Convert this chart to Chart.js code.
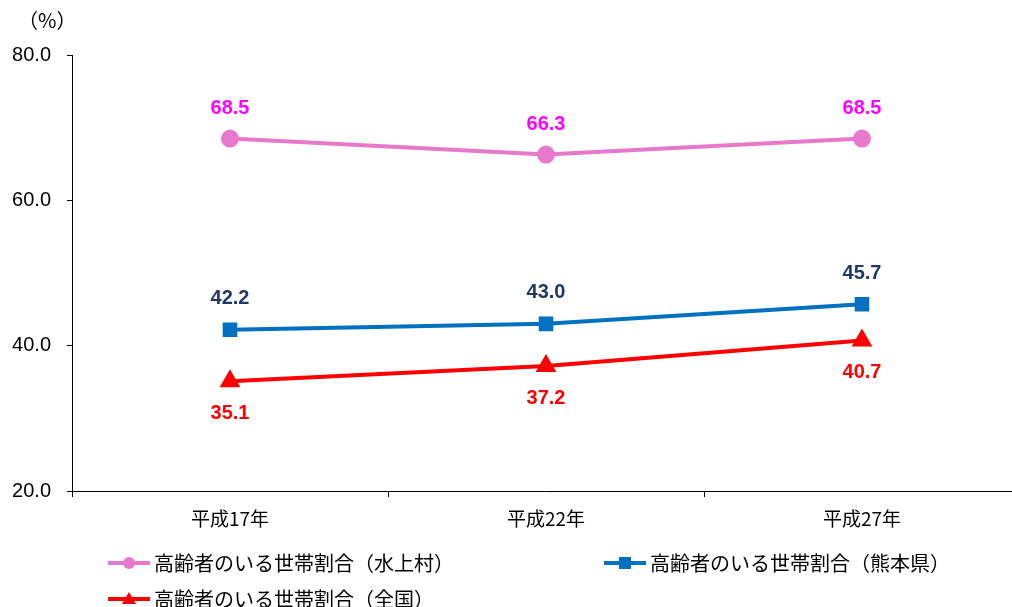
<!DOCTYPE html>
<html><head><meta charset="utf-8">
<script src="https://cdn.jsdelivr.net/npm/chart.js@4.4.0/dist/chart.umd.min.js"></script>
<style>
html,body{margin:0;padding:0;background:#fff;overflow:hidden;width:1012px;height:607px;}
#c{display:block;}
</style></head>
<body>
<canvas id="c" width="1032" height="607"></canvas>
<script>
const categories = ['平成17年', '平成22年', '平成27年'];
const mizukami = [68.5, 66.3, 68.5];
const kumamoto = [42.2, 43.0, 45.7];
const zenkoku = [35.1, 37.2, 40.7];
const seriesNames = ['高齢者のいる世帯割合（水上村）', '高齢者のいる世帯割合（熊本県）', '高齢者のいる世帯割合（全国）'];
const yTicks = [20, 40, 60, 80];

const JP = '"Noto Sans CJK JP", "Noto Sans", sans-serif';
const NUM = '"Liberation Sans", "Open Sans", sans-serif';

const labelPlugin = {
  id: 'labels',
  afterDatasetsDraw(chart) {
    const ctx = chart.ctx;
    ctx.save();
    chart.data.datasets.forEach((ds, i) => {
      const meta = chart.getDatasetMeta(i);
      meta.data.forEach((pt, j) => {
        ctx.font = 'bold 20px ' + NUM;
        ctx.fillStyle = ds.labelColor;
        ctx.textAlign = 'center';
        ctx.textBaseline = 'middle';
        ctx.fillText(ds.data[j].toFixed(1), pt.x, pt.y + ds.labelOffset);
      });
    });
    ctx.restore();
  },
  afterDraw(chart) {
    const ctx = chart.ctx;
    ctx.save();
    ctx.fillStyle = '#000';
    ctx.font = '20px ' + JP;
    ctx.textAlign = 'left';
    ctx.textBaseline = 'middle';
    ctx.fillText('（%）', 18, 20);
    // legend
    const pos = [[108, 563], [604, 563], [108, 599]];
    chart.data.datasets.forEach((ds, i) => {
      const [x, y] = pos[i];
      ctx.strokeStyle = ds.borderColor;
      ctx.lineWidth = 4;
      ctx.beginPath(); ctx.moveTo(x, y); ctx.lineTo(x + 42, y); ctx.stroke();
      ctx.fillStyle = ds.borderColor;
      const cx = x + 21;
      if (ds.pointStyle === 'circle') {
        ctx.beginPath(); ctx.arc(cx, y, 6, 0, Math.PI * 2); ctx.fill();
      } else if (ds.pointStyle === 'rect') {
        ctx.fillRect(cx - 6, y - 6, 12, 12);
      } else {
        ctx.beginPath(); ctx.moveTo(cx, y - 7); ctx.lineTo(cx + 7, y + 5); ctx.lineTo(cx - 7, y + 5); ctx.closePath(); ctx.fill();
      }
      ctx.fillStyle = '#000';
      ctx.font = '20px ' + JP;
      ctx.fillText(ds.label, x + 46, y);
    });
    ctx.restore();
  }
};

new Chart(document.getElementById('c'), {
  type: 'line',
  data: {
    labels: categories,
    datasets: [
      { label: seriesNames[0], data: mizukami, borderColor: '#E878CC', backgroundColor: '#E878CC', borderWidth: 4,
        pointStyle: 'circle', pointRadius: 7, labelColor: '#FF00FF', labelOffset: -30 },
      { label: seriesNames[1], data: kumamoto, borderColor: '#0070C0', backgroundColor: '#0070C0', borderWidth: 4,
        pointStyle: 'rect', pointRadius: 7.5, labelColor: '#1F3864', labelOffset: -31 },
      { label: seriesNames[2], data: zenkoku, borderColor: '#FF0000', backgroundColor: '#FF0000', borderWidth: 4,
        pointStyle: 'triangle', pointRadius: 8, labelColor: '#FF0000', labelOffset: 32 }
    ]
  },
  options: {
    responsive: false,
    maintainAspectRatio: false,
    animation: false,
    devicePixelRatio: 1,
    layout: { padding: { top: 55, left: 0, right: 0, bottom: 0 } },
    plugins: { legend: { display: false }, tooltip: { enabled: false } },
    elements: { line: { tension: 0 } },
    scales: {
      x: {
        offset: true,
        afterFit(s) { s.height = 116; },
        grid: { offset: true, drawOnChartArea: false, tickLength: 6, color: '#000', lineWidth: 1 },
        border: { color: '#000', width: 1 },
        ticks: { color: '#000', font: { size: 19, family: JP }, padding: 10, maxRotation: 0 }
      },
      y: {
        min: 20, max: 80,
        afterFit(s) { s.width = 72; },
        afterBuildTicks(s) { s.ticks = yTicks.map(v => ({ value: v })); },
        grid: { drawOnChartArea: false, tickLength: 5, color: '#000', lineWidth: 1 },
        border: { color: '#000', width: 1 },
        ticks: { color: '#000', font: { size: 20, family: NUM }, padding: 16,
          callback: v => Number(v).toFixed(1) }
      }
    }
  },
  plugins: [labelPlugin]
});
</script>
</body></html>
